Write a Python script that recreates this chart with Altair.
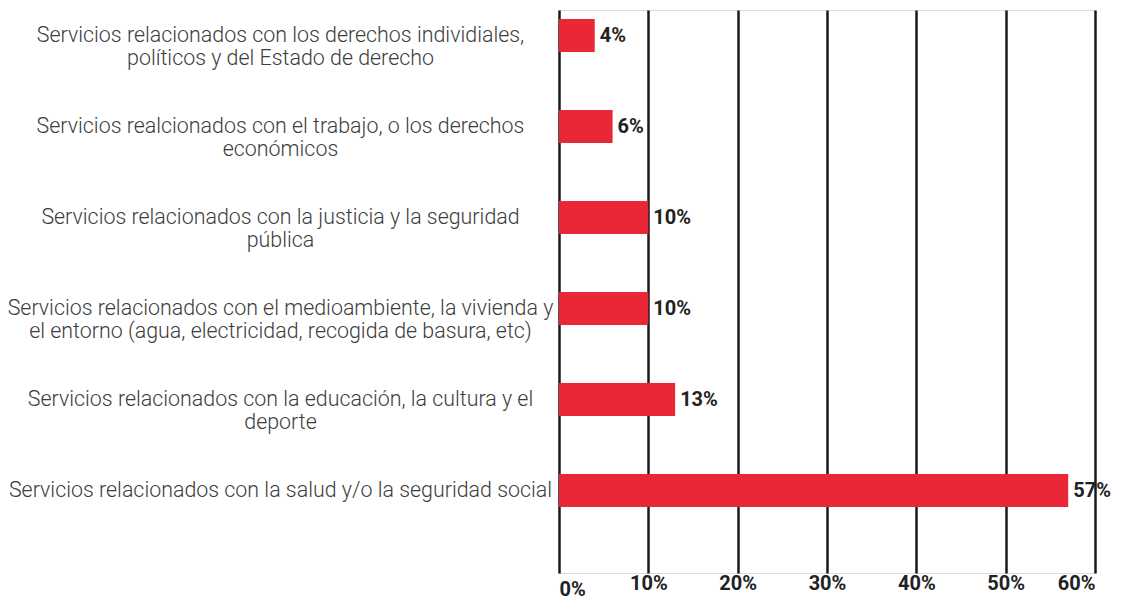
import altair as alt
import pandas as pd

categories = [
    "Servicios relacionados con los derechos individiales,|políticos y del Estado de derecho",
    "Servicios realcionados con el trabajo, o los derechos|económicos",
    "Servicios relacionados con la justicia y la seguridad|pública",
    "Servicios relacionados con el medioambiente, la vivienda y|el entorno (agua, electricidad, recogida de basura, etc)",
    "Servicios relacionados con la educación, la cultura y el|deporte",
    "Servicios relacionados con la salud y/o la seguridad social",
]
values = [4, 6, 10, 10, 13, 57]
x_ticks = [0, 10, 20, 30, 40, 50, 60]

df = pd.DataFrame({"cat": categories, "val": values})

RED = "#e92737"

y_enc = alt.Y(
    "cat:N",
    sort=None,
    title=None,
    scale=alt.Scale(paddingInner=0.637, paddingOuter=0.4119, align=0.12),
    axis=alt.Axis(
        labelExpr="split(datum.label, '|')",
        labelAlign="center",
        labelBaseline="middle",
        labelPadding=279,
        labelLimit=0,
        labelFont="Roboto Light, Roboto",
        labelFontWeight=300,
        labelFontSize=21.4,
        labelLineHeight=23,
        labelColor="#3d3d3d",
        ticks=False,
        domain=False,
        grid=False,
    ),
)

x_enc = alt.X(
    "val:Q",
    title=None,
    scale=alt.Scale(domain=[0, 60], nice=False),
    axis=alt.Axis(
        values=x_ticks,
        labelExpr="datum.value + '%'",
        labelFont="Roboto",
        labelFontWeight="bold",
        labelFontSize=20,
        labelColor="#222222",
        labelPadding=16,
        labelBaseline={"condition": {"test": "datum.value == 0", "value": "middle"}, "value": "alphabetic"},
        ticks=False,
        domain=False,
        grid=True,
        gridColor="#1a1a1a",
        gridWidth=2.5,
        gridOpacity=1,
    ),
)

base = alt.Chart(df)

bars = base.mark_bar(color=RED).encode(x=x_enc, y=y_enc)

labels = base.transform_calculate(lbl="datum.val + '%'").mark_text(
    align="left",
    baseline="middle",
    dx=5,
    font="Roboto",
    fontWeight="bold",
    fontSize=20,
    color="#222222",
).encode(x="val:Q", y=alt.Y("cat:N", sort=None), text="lbl:N")

chart = (
    alt.layer(bars, labels)
    .properties(
        width=536,
        height=563,
        autosize=alt.AutoSizeParams(type="none"),
        padding={"left": 551, "top": 2, "right": 21, "bottom": 27},
    )
    .configure_view(stroke=None)
    .configure(background="white")
)

chart.save("out.html", embed_options={"renderer": "svg", "actions": False})
